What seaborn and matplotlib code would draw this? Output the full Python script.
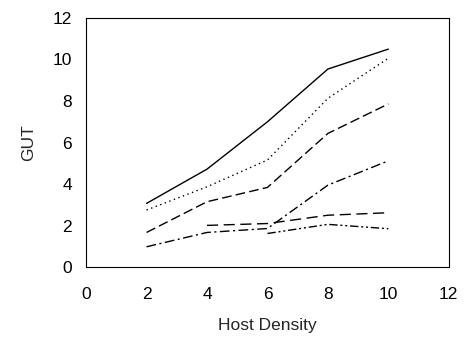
import numpy as np
import pandas as pd
import seaborn as sns
import matplotlib.pyplot as plt

density = [2, 4, 6, 8, 10]
solid = [3.07, 4.72, 7.0, 9.54, 10.5]
dotted = [2.75, 3.87, 5.16, 8.13, 10.06]
dashed = [1.67, 3.15, 3.84, 6.44, 7.86]
dashdot = [0.98, 1.67, 1.86, 3.95, 5.12]
longdash = [np.nan, 2.01, 2.1, 2.5, 2.62]
dashdotdot = [np.nan, np.nan, 1.62, 2.06, 1.85]

series = {"a": solid, "b": dotted, "c": dashed, "d": dashdot, "e": longdash, "f": dashdotdot}
df = pd.DataFrame([(k, x, y) for k, ys in series.items() for x, y in zip(density, ys)],
                  columns=["series", "Host Density", "GUT"]).dropna()

sns.set_style("white")
plt.rcParams["font.family"] = ["Liberation Sans", "DejaVu Sans"]

fig = plt.figure(figsize=(4.68, 3.39), dpi=100)
ax = fig.add_axes([0.184, 0.212, 0.775, 0.735])

dashes = {"a": "", "b": (1, 2.5), "c": (7, 3), "d": (7, 2.5, 1.5, 2.5),
          "e": (8, 4), "f": (6, 2, 1.5, 2, 1.5, 2)}
sns.lineplot(data=df, x="Host Density", y="GUT", style="series", dashes=dashes,
             color="black", linewidth=1.0, legend=False, ax=ax)

ax.set_xlim(0, 12)
ax.set_ylim(0, 12)
ax.set_xticks(range(0, 13, 2))
ax.set_yticks(range(0, 13, 2))
for s in ax.spines.values():
    s.set_color("black")
    s.set_linewidth(0.8)
ax.tick_params(direction="out", length=4, width=0.8, colors="black", labelsize=12.5)
ax.tick_params(axis="x", pad=10)
ax.tick_params(axis="y", pad=6)
ax.set_xlabel("Host Density", fontsize=12.5, labelpad=12)
ax.set_ylabel("GUT", fontsize=12.5, labelpad=12)

fig.savefig("out.png", dpi=100)
